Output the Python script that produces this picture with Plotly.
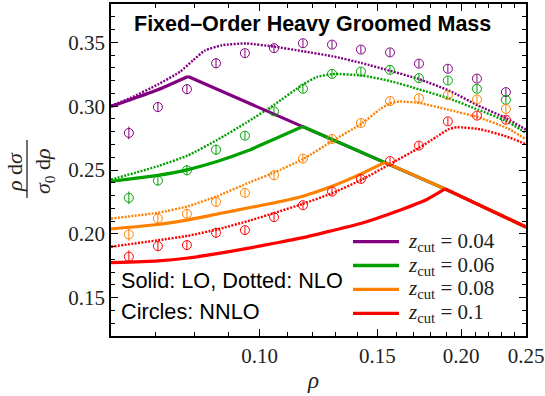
import math
import plotly.graph_objects as go

# ---------------- data ----------------
zcut_labels = ["0.04", "0.06", "0.08", "0.1"]
colors = ["#800080", "#00A000", "#FF8000", "#FF0000"]

# NNLO circles (common rho bins)
nnlo_x = [0.0638, 0.0705, 0.0779, 0.0861, 0.0951, 0.1051, 0.1161,
          0.1283, 0.1417, 0.1566, 0.1730, 0.1911, 0.2112, 0.2333]
nnlo_err = [0.005, 0.004, 0.004, 0.004, 0.003, 0.003, 0.003,
            0.003, 0.003, 0.003, 0.003, 0.003, 0.003, 0.003]
nnlo_purple = [0.2790, 0.2993, 0.3133, 0.3336, 0.3415, 0.3454, 0.3493,
               0.3482, 0.3443, 0.3421, 0.3333, 0.3293, 0.3216, 0.3110]
nnlo_green = [0.2282, 0.2417, 0.2498, 0.2659, 0.2769, 0.2959, 0.3136,
              0.3253, 0.3271, 0.3284, 0.3219, 0.3201, 0.3136, 0.3050]
nnlo_orange = [0.1995, 0.2120, 0.2157, 0.2250, 0.2321, 0.2459, 0.2589,
               0.2743, 0.2868, 0.3040, 0.3063, 0.3086, 0.3052, 0.2978]
nnlo_red = [0.1821, 0.1904, 0.1912, 0.2008, 0.2029, 0.2131, 0.2224,
            0.2331, 0.2430, 0.2570, 0.2691, 0.2881, 0.2926, 0.2894]

# LO (solid): rising branch per zcut, then common falling branch
lo_purple_x = [0.06, 0.0641, 0.0705, 0.0782]
lo_purple_y = [0.2998, 0.3050, 0.3128, 0.3232]
lo_green_x = [0.06, 0.0705, 0.0782, 0.0864, 0.0955, 0.1051, 0.1160]
lo_green_y = [0.2412, 0.2458, 0.2503, 0.2566, 0.2646, 0.2741, 0.2841]
lo_orange_x = [0.06, 0.0705, 0.0782, 0.0864, 0.0968, 0.1051, 0.1161, 0.1274, 0.1399, 0.1539]
lo_orange_y = [0.2038, 0.2073, 0.2110, 0.2155, 0.2206, 0.2243, 0.2295, 0.2366, 0.2456, 0.2560]
lo_red_x = [0.06, 0.0705, 0.0782, 0.0864, 0.0968, 0.1051, 0.1161, 0.1274, 0.1428, 0.1604, 0.1777, 0.1892]
lo_red_y = [0.1774, 0.1788, 0.1811, 0.1845, 0.1890, 0.1926, 0.1970, 0.2021, 0.2087, 0.2177, 0.2269, 0.2352]
lo_fall_x = [0.0782, 0.1160, 0.1539, 0.1892, 0.25]
lo_fall_y = [0.3232, 0.2841, 0.2560, 0.2352, 0.2054]
lo_fall_start = [0, 1, 2, 3]   # index of each zcut's kink in the falling branch

# NLO (dotted)
nlo_purple_x = [0.06, 0.0641, 0.0705, 0.0761, 0.0796, 0.0829, 0.0879, 0.0955,
                0.1051, 0.1161, 0.1287, 0.1422, 0.1566, 0.1730, 0.1919, 0.2120, 0.2342, 0.25]
nlo_purple_y = [0.3003, 0.3063, 0.3170, 0.3270, 0.3360, 0.3436, 0.3477, 0.3491,
                0.3466, 0.3430, 0.3390, 0.3337, 0.3277, 0.3212, 0.3122, 0.3005, 0.2902, 0.2816]
nlo_green_x = [0.06, 0.0705, 0.0782, 0.0864, 0.0955, 0.1051, 0.1161, 0.1218, 0.1287,
               0.1422, 0.1566, 0.1730, 0.1919, 0.2120, 0.2342, 0.25]
nlo_green_y = [0.2425, 0.2530, 0.2615, 0.2735, 0.2870, 0.3010, 0.3170, 0.3228, 0.3252,
               0.3240, 0.3197, 0.3132, 0.3060, 0.2972, 0.2880, 0.2790]
nlo_orange_x = [0.06, 0.0705, 0.0782, 0.0864, 0.0968, 0.1051, 0.1161, 0.1287, 0.1422,
                0.1513, 0.1566, 0.1621, 0.1736, 0.1905, 0.2120, 0.2342, 0.25]
nlo_orange_y = [0.2120, 0.2165, 0.2216, 0.2295, 0.2405, 0.2480, 0.2585, 0.2730, 0.2865,
                0.2975, 0.3022, 0.3036, 0.3024, 0.2975, 0.2913, 0.2829, 0.2740]
nlo_red_x = [0.06, 0.0705, 0.0782, 0.0864, 0.0968, 0.1051, 0.1161, 0.1287, 0.1422,
             0.1566, 0.1730, 0.1841, 0.1914, 0.1970, 0.2134, 0.2342, 0.25]
nlo_red_y = [0.1899, 0.1950, 0.1985, 0.2034, 0.2105, 0.2163, 0.2235, 0.2321, 0.2425,
             0.2546, 0.2673, 0.2763, 0.2818, 0.2835, 0.2819, 0.2761, 0.2702]

x_ticks = [0.10, 0.15, 0.20, 0.25]
x_ticktext = ["0.10", "0.15", "0.20", "0.25"]
x_minor = [0.07, 0.08, 0.09, 0.11, 0.12, 0.13, 0.14, 0.16, 0.17, 0.18, 0.19,
           0.21, 0.22, 0.23, 0.24]
y_ticks = [0.15, 0.20, 0.25, 0.30, 0.35]
y_ticktext = ["0.15", "0.20", "0.25", "0.30", "0.35"]
y_minor = [0.13, 0.14, 0.16, 0.17, 0.18, 0.19, 0.21, 0.22, 0.23, 0.24, 0.26, 0.27,
           0.28, 0.29, 0.31, 0.32, 0.33, 0.34, 0.36, 0.37]

lo_x = [lo_purple_x, lo_green_x, lo_orange_x, lo_red_x]
lo_y = [lo_purple_y, lo_green_y, lo_orange_y, lo_red_y]
nlo_x = [nlo_purple_x, nlo_green_x, nlo_orange_x, nlo_red_x]
nlo_y = [nlo_purple_y, nlo_green_y, nlo_orange_y, nlo_red_y]
nnlo_y = [nnlo_purple, nnlo_green, nnlo_orange, nnlo_red]

# ---------------- figure ----------------
L, R, T, B = 111, 19, 4, 60
W, H = 545, 396
PW, PH = W - L - R, H - T - B


def px(xp):
    return (xp - L) / PW


def py(yp):
    return (H - B - yp) / PH


fig = go.Figure()

# NLO dotted
for i in range(4):
    fig.add_trace(go.Scatter(
        x=nlo_x[i], y=nlo_y[i], mode="lines",
        line=dict(color=colors[i], width=2.4, dash="2px,1.4px", shape="spline", smoothing=0.5),
        hoverinfo="skip"))

# LO solid
for i in range(4):
    fig.add_trace(go.Scatter(
        x=lo_x[i], y=lo_y[i], mode="lines",
        line=dict(color=colors[i], width=3.2, shape="spline", smoothing=0.5),
        hoverinfo="skip"))
    s = lo_fall_start[i]
    fig.add_trace(go.Scatter(
        x=lo_fall_x[s:], y=lo_fall_y[s:], mode="lines",
        line=dict(color=colors[i], width=3.2),
        hoverinfo="skip"))

# NNLO circles
for i in range(4):
    fig.add_trace(go.Scatter(
        x=nnlo_x, y=nnlo_y[i], mode="markers",
        marker=dict(symbol="circle-open", size=9, color=colors[i], line=dict(width=1, color=colors[i])),
        error_y=dict(type="data", array=nnlo_err, visible=True, thickness=1, width=0, color=colors[i]),
        hoverinfo="skip"))

axis_common = dict(
    showline=True, linecolor="black", linewidth=1.5, mirror="allticks",
    ticks="inside", ticklen=7, tickwidth=1, tickcolor="black",
    showgrid=False, zeroline=False, automargin=False,
    tickfont=dict(family="Liberation Serif", size=21, color="#222"),
)

fig.update_layout(
    width=W, height=H,
    margin=dict(l=L, r=R, t=T, b=B),
    plot_bgcolor="white", paper_bgcolor="white",
    showlegend=False,
    xaxis=dict(type="log", range=[math.log10(0.06), math.log10(0.25)],
               tickmode="array", tickvals=x_ticks, ticktext=x_ticktext,
               minor=dict(tickmode="array", tickvals=x_minor, ticks="inside", ticklen=4,
                          tickwidth=1, tickcolor="black"),
               **axis_common),
    yaxis=dict(range=[0.12, 0.38], tickmode="array", tickvals=y_ticks, ticktext=y_ticktext,
               minor=dict(tickmode="array", tickvals=y_minor, ticks="inside", ticklen=4,
                          tickwidth=1, tickcolor="black"),
               **axis_common),
)

ann = []
ann.append(dict(x=px(312), y=py(24), xref="paper", yref="paper", showarrow=False,
                text="<b>Fixed\u2013Order Heavy Groomed Mass</b>",
                font=dict(family="Liberation Sans", size=21.5, color="black"),
                xanchor="center", yanchor="middle"))
ann.append(dict(x=px(119), y=py(280), xref="paper", yref="paper", showarrow=False,
                text="Solid: LO, Dotted: NLO",
                font=dict(family="Liberation Sans", size=21.7, color="black"),
                xanchor="left", yanchor="middle"))
ann.append(dict(x=px(119), y=py(311), xref="paper", yref="paper", showarrow=False,
                text="Circles: NNLO",
                font=dict(family="Liberation Sans", size=21.7, color="black"),
                xanchor="left", yanchor="middle"))
# x title
ann.append(dict(x=px(313), y=py(381), xref="paper", yref="paper", showarrow=False,
                text="<i>\u03c1</i>", font=dict(family="Liberation Serif", size=23, color="#222"),
                xanchor="center", yanchor="middle"))
# y title as a fraction
ann.append(dict(x=px(14), y=py(172), xref="paper", yref="paper", showarrow=False, textangle=-90,
                text="<i>\u03c1</i> d<i>\u03c3</i>", font=dict(family="Liberation Serif", size=22, color="#222"),
                xanchor="center", yanchor="middle"))
ann.append(dict(x=px(44), y=py(171), xref="paper", yref="paper", showarrow=False, textangle=-90,
                text="<i>\u03c3</i><sub>0</sub> d<i>\u03c1</i>", font=dict(family="Liberation Serif", size=22, color="#222"),
                xanchor="center", yanchor="middle"))

shapes = [dict(type="line", xref="paper", yref="paper", x0=px(27), x1=px(27), y0=py(140), y1=py(198),
               line=dict(color="#222", width=1.3))]

# custom legend
leg_y = [241.7, 265.5, 289.3, 313.3]
for i in range(4):
    shapes.append(dict(type="line", xref="paper", yref="paper", x0=px(353), x1=px(399),
                       y0=py(leg_y[i]), y1=py(leg_y[i]), line=dict(color=colors[i], width=3.3)))
    ann.append(dict(x=px(406), y=py(leg_y[i]), xref="paper", yref="paper", showarrow=False,
                    text="<i>z</i><sub>cut</sub> = " + zcut_labels[i],
                    font=dict(family="Liberation Serif", size=21, color="#222"),
                    xanchor="left", yanchor="middle"))

fig.update_layout(annotations=ann, shapes=shapes)
fig.write_html("out.html", config={"displayModeBar": False},
               post_script="document.body.style.margin='0px';document.body.style.padding='0px';")
